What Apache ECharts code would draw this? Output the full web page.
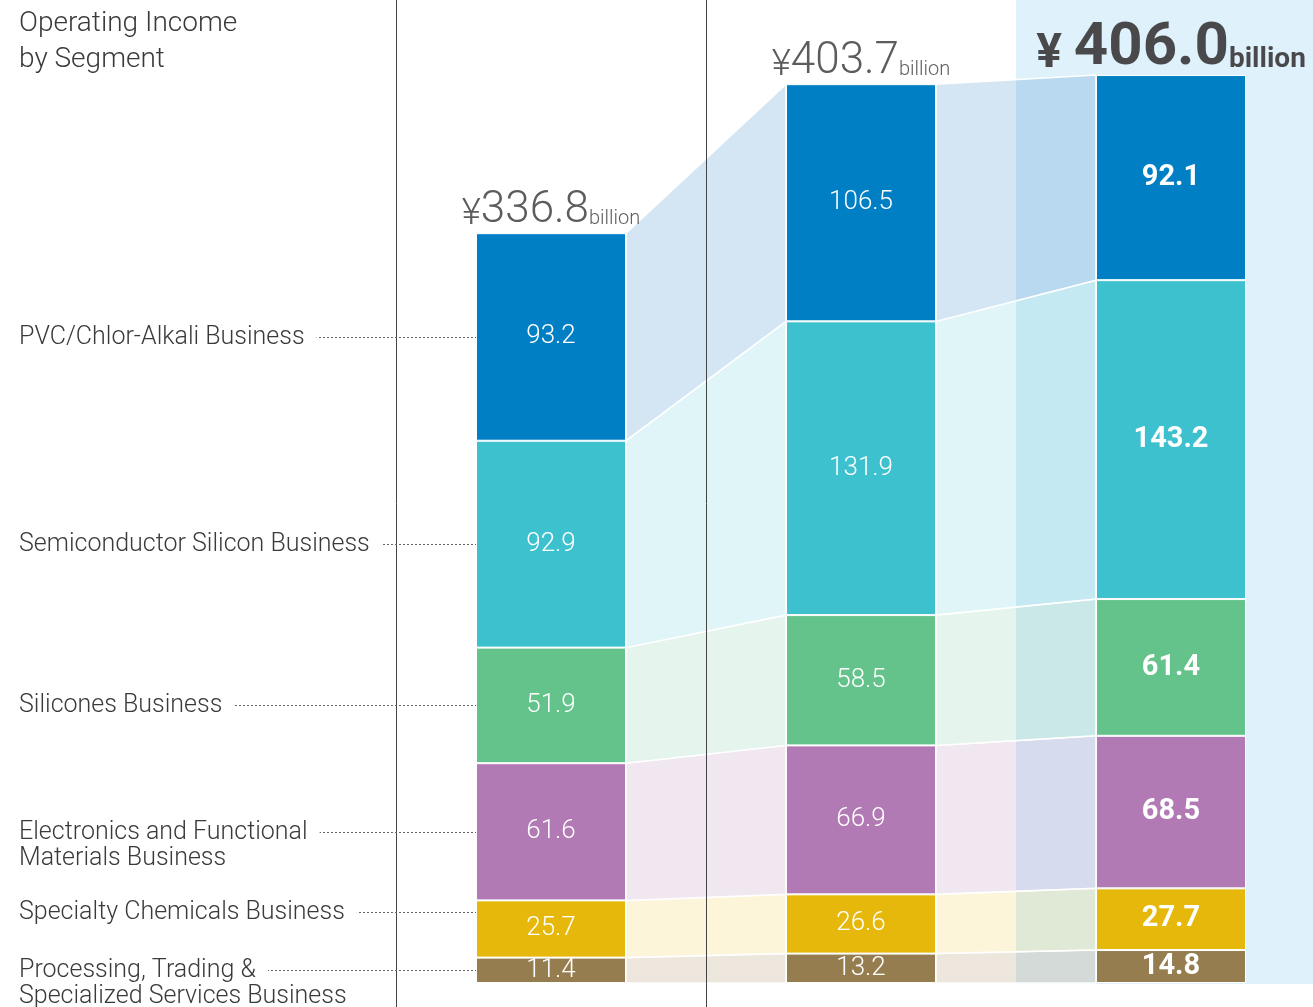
<!DOCTYPE html>
<html>
<head>
<meta charset="utf-8">
<script src="https://cdn.jsdelivr.net/npm/echarts@6/dist/echarts.min.js"></script>
<style>
html, body { margin: 0; padding: 0; background: #fff; overflow: hidden; }
/* a bit wider than the window so the last category band can run off the edge */
#main { width: 1340px; height: 1007px; }
</style>
</head>
<body>
<div id="main"></div>
<script>
// categories (no labels shown in the picture)
const years = ["Year 1", "Year 2", "Year 3"];

// segment values, bottom of the stack first
const processing = [11.4, 13.2, 14.8];
const specialty = [25.7, 26.6, 27.7];
const electronics = [61.6, 66.9, 68.5];
const silicones = [51.9, 58.5, 61.4];
const semiconductor = [92.9, 131.9, 143.2];
const pvc = [93.2, 106.5, 92.1];
const totals = [336.8, 403.7, 406.0];

const segNames = [
  ["Processing, Trading &", "Specialized Services Business"],
  ["Specialty Chemicals Business"],
  ["Electronics and Functional", "Materials Business"],
  ["Silicones Business"],
  ["Semiconductor Silicon Business"],
  ["PVC/Chlor-Alkali Business"]
];
const segData = [processing, specialty, electronics, silicones, semiconductor, pvc];

// styles
const barColors = ["#957d4f", "#e6b80b", "#b27ab4", "#64c28b", "#3dc1cf", "#007fc4"];
const bandColors = [
  "rgba(165,130,80,0.2)",
  "rgba(232,185,10,0.15)",
  "rgba(180,120,180,0.18)",
  "rgba(100,190,140,0.17)",
  "rgba(60,190,210,0.16)",
  "rgba(0,100,190,0.17)"
];
const labelNudge = [0, -17, 0, 0, 0, 0];
const FONT = "Roboto, 'Noto Sans', sans-serif";
const BAR_W = 150;

// cumulative bottoms per segment / year
function cumLow(s, i) {
  let sum = 0;
  for (let k = 0; k < s; k++) sum += segData[k][i];
  return sum;
}

let chart = echarts.init(document.getElementById("main"));

let series = [];

// connecting bands between bars
let bandItems = [];
for (let s = 0; s < segData.length; s++) {
  for (let g = 0; g < years.length - 1; g++) bandItems.push([g, s]);
}
series.push({
  type: "custom",
  z: 1,
  silent: true,
  clip: false,
  data: bandItems,
  renderItem: (params, api) => {
    let g = api.value(0);
    let s = api.value(1);
    let lo0 = cumLow(s, g), hi0 = lo0 + segData[s][g];
    let lo1 = cumLow(s, g + 1), hi1 = lo1 + segData[s][g + 1];
    let x0 = api.coord([g, 0])[0] + BAR_W / 2;
    let x1 = api.coord([g + 1, 0])[0] - BAR_W / 2;
    return {
      type: "polygon",
      shape: {
        points: [
          [x0, api.coord([g, hi0])[1]],
          [x1, api.coord([g + 1, hi1])[1]],
          [x1, api.coord([g + 1, lo1])[1]],
          [x0, api.coord([g, lo0])[1]]
        ]
      },
      style: { fill: bandColors[s], stroke: "#fff", lineWidth: 1.5 }
    };
  }
});

// stacked bars
segData.forEach((arr, s) => {
  series.push({
    name: segNames[s].join(" "),
    type: "bar",
    stack: "total",
    barWidth: BAR_W,
    z: 3,
    itemStyle: { color: barColors[s], borderColor: "#fff", borderWidth: 1 },
    label: {
      show: true,
      position: "inside",
      color: "#fff",
      fontFamily: FONT,
      fontSize: 26,
      fontWeight: 300,
      formatter: p => arr[p.dataIndex].toFixed(1)
    },
    data: arr.map((v, i) => {
      if (i === years.length - 1) {
        return { value: v, label: { fontWeight: "bold", fontSize: 29 } };
      }
      return v;
    })
  });
});

// totals above the bars
series.push({
  type: "scatter",
  symbolSize: 0,
  z: 4,
  silent: true,
  data: totals.map((v, i) => [i, v]),
  label: {
    show: true,
    position: "top",
    distance: 0,
    formatter: p => {
      let v = totals[p.dataIndex].toFixed(1);
      if (p.dataIndex === years.length - 1) return "{A|¥ }{B|" + v + "}{C|billion}";
      return "{a|¥}{b|" + v + "}{c|billion}";
    },
    rich: {
      a: { fontFamily: FONT, fontSize: 37, fontWeight: 300, color: "#333", verticalAlign: "bottom", lineHeight: 46 },
      b: { fontFamily: FONT, fontSize: 44, fontWeight: 300, color: "#333", verticalAlign: "bottom", lineHeight: 46 },
      c: { fontFamily: FONT, fontSize: 20, fontWeight: 300, color: "#333", verticalAlign: "bottom", lineHeight: 46, padding: [0, 0, 4, 0] },
      A: { fontFamily: FONT, fontSize: 48, fontWeight: "bold", color: "#231f20", verticalAlign: "bottom", lineHeight: 62 },
      B: { fontFamily: FONT, fontSize: 60, fontWeight: "bold", color: "#231f20", verticalAlign: "bottom", lineHeight: 62 },
      C: { fontFamily: FONT, fontSize: 28, fontWeight: "bold", color: "#231f20", verticalAlign: "bottom", lineHeight: 62, padding: [0, 0, 5, 0] }
    }
  }
});

let option = {
  animation: false,
  grid: { left: 396, width: 930, top: 0, bottom: 24 },
  xAxis: {
    type: "category",
    data: years,
    show: false
  },
  yAxis: {
    type: "value",
    min: 0,
    max: 441.4,
    show: false
  },
  series: series
};
chart.setOption(option);

// decorations placed from the axis scales
function px(i, v) {
  return chart.convertToPixel({ xAxisIndex: 0, yAxisIndex: 0 }, [i, v]);
}
let bandW = px(1, 0)[0] - px(0, 0)[0];
let baseY = px(0, 0)[1];
let graphic = [];

// light blue panel behind the latest year
let panelX = Math.round(px(2, 0)[0] - bandW / 2);
graphic.push({
  type: "rect",
  z: -10,
  silent: true,
  shape: { x: panelX, y: 0, width: 1340 - panelX, height: baseY + 1 },
  style: { fill: "#dff1fa" }
});

// vertical separators
[0, 1].forEach(i => {
  let x = Math.round(px(i, 0)[0] - bandW / 2) + 0.5;
  graphic.push({
    type: "line",
    z: 50,
    silent: true,
    shape: { x1: x, y1: 0, x2: x, y2: 1007 },
    style: { stroke: "#444", lineWidth: 1 }
  });
});

// title
graphic.push({
  type: "text",
  z: 60,
  x: 19,
  y: 6,
  style: {
    text: "Operating Income\nby Segment",
    font: "300 28px " + FONT,
    fill: "#3a3a3a",
    lineHeight: 36
  }
});

// segment names with dotted leaders to the first bar
let barLeft = px(0, 0)[0] - BAR_W / 2;
segData.forEach((arr, s) => {
  let lo = cumLow(s, 0);
  let y = Math.round(px(0, lo + arr[0] / 2)[1] + labelNudge[s]) + 0.5;
  graphic.push({
    type: "line",
    z: 55,
    silent: true,
    shape: { x1: 19, y1: y, x2: barLeft, y2: y },
    style: { stroke: "#666", lineWidth: 1, lineDash: [2, 2] }
  });
  segNames[s].forEach((t, k) => {
    graphic.push({
      type: "text",
      z: 60,
      x: 19,
      y: y + k * 26,
      style: {
        text: t,
        font: "300 25px " + FONT,
        fill: "#3a3a3a",
        verticalAlign: "middle",
        backgroundColor: k === 0 ? "#fff" : "transparent",
        padding: k === 0 ? [0, 12, 0, 0] : 0
      }
    });
  });
});

chart.setOption({ graphic: graphic });

window.addEventListener("resize", () => {
  chart.resize();
});
</script>
</body>
</html>
